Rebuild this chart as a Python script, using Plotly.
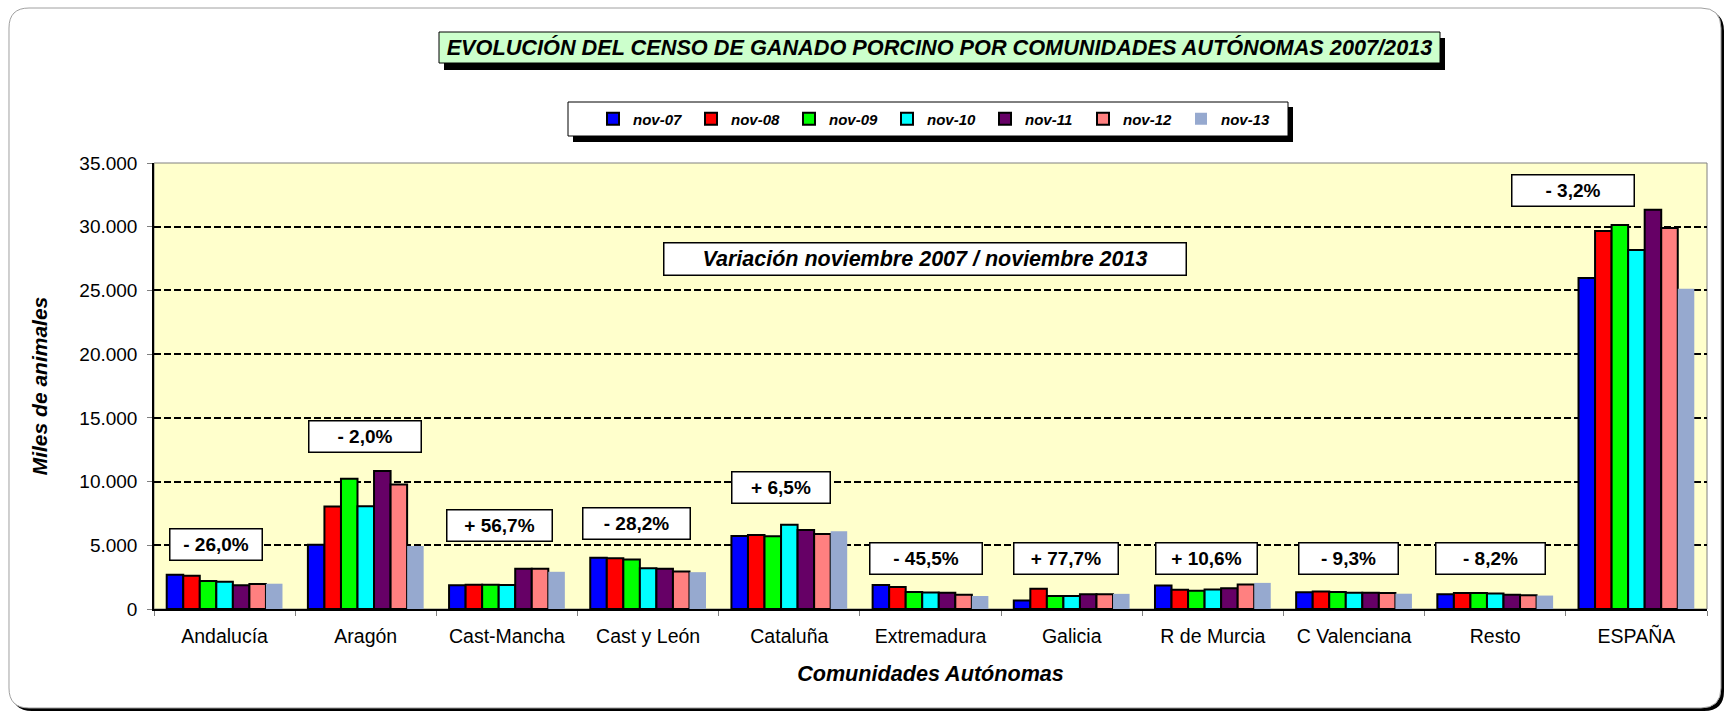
import plotly.graph_objects as go

# ---------------- data ----------------
categories = ["Andalucía", "Aragón", "Cast-Mancha", "Cast y León", "Cataluña",
              "Extremadura", "Galicia", "R de Murcia", "C Valenciana", "Resto", "ESPAÑA"]
series_names = ["nov-07", "nov-08", "nov-09", "nov-10", "nov-11", "nov-12", "nov-13"]
nov07 = [2680, 5050, 1870, 4030, 5730, 1875, 670, 1850, 1320, 1150, 25970]
nov08 = [2600, 8050, 1900, 3980, 5800, 1720, 1590, 1510, 1380, 1250, 29660]
nov09 = [2190, 10230, 1900, 3880, 5700, 1330, 1020, 1430, 1330, 1250, 30130]
nov10 = [2140, 8070, 1875, 3200, 6610, 1300, 1020, 1540, 1280, 1220, 28170]
nov11 = [1860, 10830, 3150, 3150, 6200, 1280, 1150, 1620, 1280, 1120, 31330]
nov12 = [1960, 9770, 3150, 2940, 5890, 1120, 1150, 1930, 1250, 1070, 29900]
nov13 = [1985, 4950, 2920, 2890, 6100, 1020, 1190, 2050, 1200, 1055, 25140]
pct_labels = ["- 26,0%", "- 2,0%", "+ 56,7%", "- 28,2%", "+ 6,5%", "- 45,5%",
              "+ 77,7%", "+ 10,6%", "- 9,3%", "- 8,2%", "- 3,2%"]
y_ticks = [0, 5000, 10000, 15000, 20000, 25000, 30000, 35000]

# ---------------- styling / placement ----------------
colors = ["#0000FF", "#FF0000", "#00FF00", "#00FFFF", "#660066", "#FF8080", "#96A9CF"]
outline = [2, 2, 2, 2, 2, 2, 0]
box_y = [5030, 13500, 6575, 6680, 9518, 4000, 4000, 4000, 4000, 4000, 32810]
box_dx = [-9, -1, -7, -12, -8, -5, -6, -6, -6, -5, -63]
box_w = [94, 114, 107, 109, 100, 114, 106, 103, 101, 111, 124]
box_h = 33

W, H = 1731, 716
L, R, T, B = 154, 24, 163, 107
PW, PH = W - L - R, H - T - B
FONT = "Liberation Sans, Arial, sans-serif"


def px(x):
    return (x - L) / PW


def py(y):
    return (T + PH - y) / PH


def rrect(x0, y0, x1, y1, r):
    pts = [
        ("M", (x0 + r, y0)), ("L", (x1 - r, y0)), ("Q", (x1, y0), (x1, y0 + r)),
        ("L", (x1, y1 - r)), ("Q", (x1, y1), (x1 - r, y1)), ("L", (x0 + r, y1)),
        ("Q", (x0, y1), (x0, y1 - r)), ("L", (x0, y0 + r)), ("Q", (x0, y0), (x0 + r, y0)),
    ]
    s = ""
    for item in pts:
        s += item[0] + " " + " ".join(f"{px(a):.5f},{py(b):.5f}" for a, b in item[1:]) + " "
    return s + "Z"


data = [nov07, nov08, nov09, nov10, nov11, nov12, nov13]

fig = go.Figure()
for name, vals, col, lw in zip(series_names, data, colors, outline):
    fig.add_trace(go.Bar(
        x=categories, y=vals, name=name,
        marker=dict(color=col, line=dict(color="black", width=lw)),
    ))

shapes = [
    # outer rounded frame with shadow
    dict(type="path", xref="paper", yref="paper", path=rrect(12, 11, 1724, 711, 20),
         fillcolor="black", line=dict(width=0), layer="below"),
    dict(type="path", xref="paper", yref="paper", path=rrect(9, 8, 1721, 708, 20),
         fillcolor="white", line=dict(color="#A0A0A0", width=1), layer="below"),
    # plot area background
    dict(type="rect", xref="paper", yref="paper", x0=0, x1=1, y0=0, y1=1,
         fillcolor="#FFFFCC", line=dict(color="#808080", width=1), layer="below"),
    # title box with shadow
    dict(type="rect", xref="paper", yref="paper", x0=px(444), x1=px(1445), y0=py(70), y1=py(38),
         fillcolor="black", line=dict(width=0), layer="below"),
    dict(type="rect", xref="paper", yref="paper", x0=px(439), x1=px(1440), y0=py(63), y1=py(32),
         fillcolor="#CCFFCC", line=dict(color="black", width=1), layer="below"),
    # legend box with shadow
    dict(type="rect", xref="paper", yref="paper", x0=px(573), x1=px(1293), y0=py(142), y1=py(107),
         fillcolor="black", line=dict(width=0), layer="below"),
    dict(type="rect", xref="paper", yref="paper", x0=px(568), x1=px(1288), y0=py(136), y1=py(102),
         fillcolor="white", line=dict(color="black", width=1), layer="below"),
]

annotations = [
    dict(text="<b><i>Variación noviembre 2007 / noviembre 2013</i></b>",
         xref="paper", yref="paper", x=px(925), y=py(259), showarrow=False,
         font=dict(family=FONT, size=21.5, color="black"),
         bgcolor="white", bordercolor="black", borderwidth=1.5, borderpad=0,
         width=521, height=31, xanchor="center", yanchor="middle"),
]
for cat, lab, yv, dx, bw in zip(categories, pct_labels, box_y, box_dx, box_w):
    annotations.append(dict(
        text=f"<b>{lab}</b>", x=cat, y=yv, xref="x", yref="y", xshift=dx,
        showarrow=False, font=dict(family=FONT, size=19, color="black"),
        bgcolor="white", bordercolor="black", borderwidth=1.5, borderpad=0,
        width=bw - 3, height=box_h - 3, xanchor="center", yanchor="middle"))

fig.update_layout(
    width=W, height=H,
    margin=dict(l=L, r=R, t=T, b=B),
    paper_bgcolor="white", plot_bgcolor="rgba(0,0,0,0)",
    separators=",.",
    barmode="group", bargap=0.18, bargroupgap=0,
    font=dict(family=FONT, color="black"),
    title=dict(text="<b><i>EVOLUCIÓN DEL CENSO DE GANADO PORCINO POR COMUNIDADES AUTÓNOMAS 2007/2013</i></b>",
               x=939.5 / W, y=1 - 47.5 / H, xref="container", yref="container",
               xanchor="center", yanchor="middle",
               font=dict(family=FONT, size=21.7, color="black")),
    legend=dict(orientation="h", x=px(936), y=py(119), xanchor="center", yanchor="middle",
                bgcolor="rgba(0,0,0,0)", borderwidth=0,
                font=dict(family=FONT, size=15, color="black", weight="bold", style="italic"),
                entrywidth=53, entrywidthmode="pixels", itemwidth=30, traceorder="normal"),
    shapes=shapes,
    annotations=annotations,
    xaxis=dict(
        showline=True, linecolor="black", linewidth=1.5,
        ticks="outside", tickson="boundaries", ticklen=5, tickcolor="#808080",
        tickfont=dict(family=FONT, size=19.5, color="black"),
        ticklabelstandoff=9,
        showgrid=False,
        title=dict(text="<b><i>Comunidades Autónomas</i></b>", standoff=20,
                   font=dict(family=FONT, size=21.6, color="black")),
    ),
    yaxis=dict(
        range=[0, 35000], tickvals=y_ticks, tickformat=",d",
        showline=True, linecolor="black", linewidth=1.5,
        ticks="outside", ticklen=5, tickcolor="#808080",
        tickfont=dict(family=FONT, size=19, color="black"),
        ticklabelstandoff=6,
        showgrid=True, gridcolor="black", gridwidth=2, griddash="7px,3px",
        zeroline=False,
        title=dict(text="<b><i>Miles de animales</i></b>", standoff=26,
                   font=dict(family=FONT, size=21, color="black")),
    ),
)

fig.write_html("out.html", config={"displayModeBar": False},
               post_script="document.body.style.margin='0';document.body.style.overflow='hidden';")
